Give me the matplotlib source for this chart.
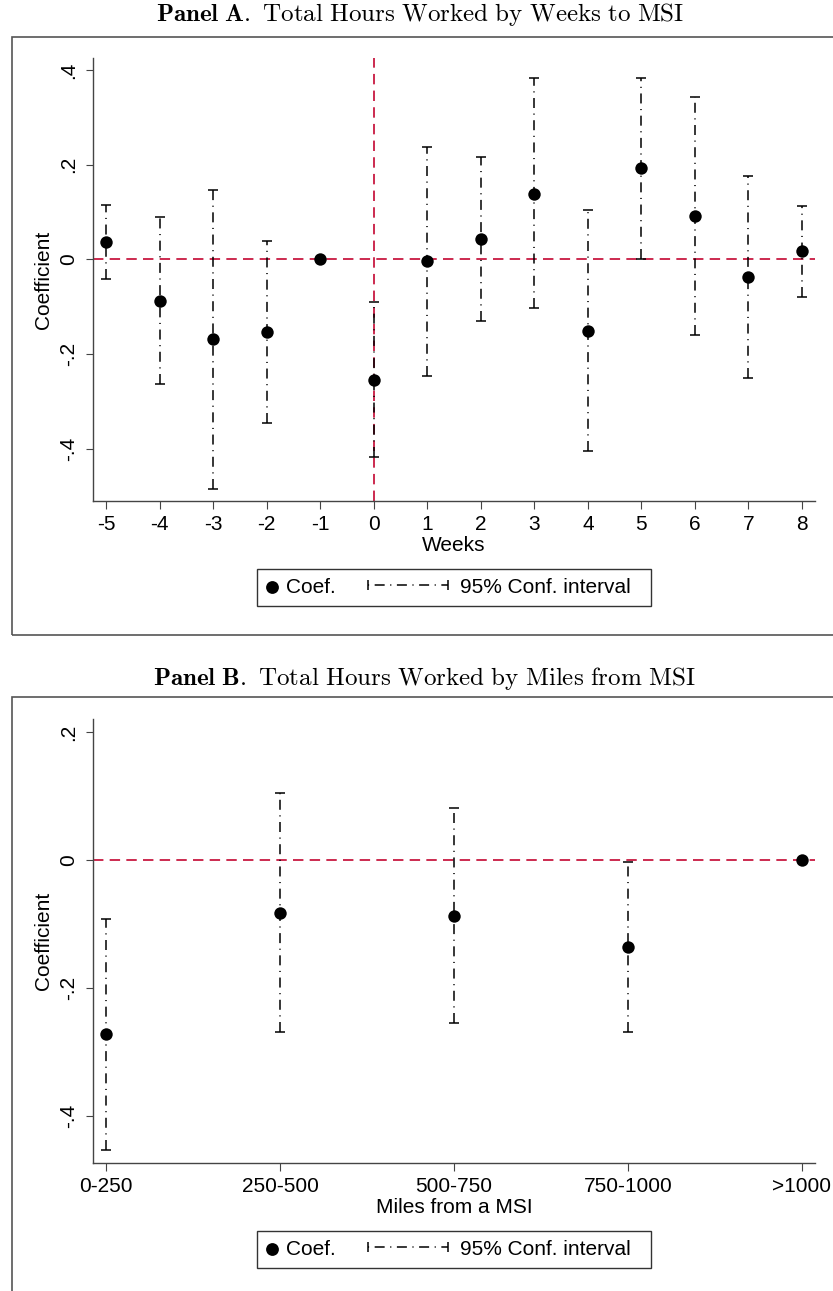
import matplotlib
matplotlib.use("Agg")
import matplotlib.pyplot as plt
from matplotlib.lines import Line2D
from matplotlib.patches import Rectangle
from matplotlib.legend_handler import HandlerBase
import numpy as np

# Panel A: coefficients by weeks to MSI
weeks = [-5, -4, -3, -2, -1, 0, 1, 2, 3, 4, 5, 6, 7, 8]
coef_a = [0.036, -0.087, -0.169, -0.154, 0.0, -0.254, -0.004, 0.043, 0.139, -0.151, 0.192, 0.092, -0.037, 0.017]
lo_a = [-0.042, -0.263, -0.485, -0.346, np.nan, -0.418, -0.246, -0.130, -0.102, -0.405, 0.001, -0.159, -0.250, -0.079]
hi_a = [0.115, 0.089, 0.147, 0.039, np.nan, -0.089, 0.237, 0.215, 0.382, 0.104, 0.382, 0.342, 0.176, 0.113]

# Panel B: coefficients by miles from MSI
miles = ["0-250", "250-500", "500-750", "750-1000", ">1000"]
coef_b = [-0.272, -0.082, -0.0875, -0.135, 0.0]
lo_b = [-0.452, -0.269, -0.255, -0.268, np.nan]
hi_b = [-0.092, 0.105, 0.081, -0.003, np.nan]

plt.rcParams['font.family'] = ['Liberation Sans', 'DejaVu Sans']
plt.rcParams['mathtext.fontset'] = 'cm'
plt.rcParams['lines.scale_dashes'] = False
plt.rcParams['axes.unicode_minus'] = False

red = '#cc2a4f'
spine_c = '#444444'
ci_style = (0, (7.2, 4.0, 0.8, 4.0))
fs = 15


class HandlerCI(HandlerBase):
    # Stata-like CI key: horizontal dash-dot line with end caps, drawn leftwards
    def create_artists(self, legend, orig_handle, xdescent, ydescent,
                       width, height, fontsize, trans):
        y = height / 2 - ydescent
        x1 = width - xdescent - 2.9
        x0 = x1 - 57.6
        line = Line2D([x0, x1], [y, y], color='black', lw=1.1, ls=(0, (0.8, 4.0, 7.2, 4.0)))
        caps = Line2D([x0, x1], [y, y], ls='none', marker='|', markersize=7,
                      markeredgewidth=1.1, color='black')
        line.set_transform(trans)
        caps.set_transform(trans)
        return [line, caps]


fig = plt.figure(figsize=(8.33, 12.91), dpi=100)


def draw_panel(ax, x, coef, lo, hi, xlabel, leg_y):
    x = np.asarray(x, dtype=float)
    coef = np.asarray(coef)
    lo = np.asarray(lo)
    hi = np.asarray(hi)
    ax.axhline(0, color=red, lw=1.4, ls=(0, (7.5, 4.5)), zorder=1)
    ok = ~np.isnan(lo)
    yerr = np.vstack([coef[ok] - lo[ok], hi[ok] - coef[ok]])
    eb = ax.errorbar(x[ok], coef[ok], yerr=yerr, fmt='none', ecolor='black',
                     elinewidth=1.1, capsize=3.4, capthick=1.1, zorder=2)
    eb[2][0].set_linestyle(ci_style)
    ax.scatter(x, coef, s=80, color='black', zorder=3, linewidths=0)

    for s in ['top', 'right']:
        ax.spines[s].set_visible(False)
    for s in ['left', 'bottom']:
        ax.spines[s].set_color(spine_c)
        ax.spines[s].set_linewidth(1.0)
    ax.tick_params(direction='out', length=5.4, width=0.8, color=spine_c,
                   labelsize=fs)
    ax.tick_params(axis='x', pad=5)
    ax.tick_params(axis='y', pad=5)
    ax.set_xlabel(xlabel, fontsize=fs, labelpad=1)
    ax.set_ylabel('Coefficient', fontsize=fs, labelpad=5)

    h_dot = ax.scatter([], [], s=85, color='black', linewidths=0)
    h_ci = Line2D([], [])
    leg = ax.legend([h_dot, h_ci], ['Coef.', '95% Conf. interval  '],
                    handler_map={h_ci: HandlerCI()},
                    loc='upper center', bbox_to_anchor=(0.5, leg_y),
                    ncol=2, fontsize=fs, frameon=True, fancybox=False,
                    scatterpoints=1, handlelength=0.6,
                    columnspacing=5.0, handletextpad=0.38, borderpad=0.42,
                    borderaxespad=0)
    leg.get_frame().set_edgecolor('black')
    leg.get_frame().set_linewidth(1.0)


def fmt_y(v):
    if abs(v) < 1e-9:
        return '0'
    s = '%.1f' % v
    return s.replace('0.', '.')


# Panel A
axA = fig.add_axes([93 / 833, 1 - 501 / 1291, 722 / 833, 443 / 1291])
draw_panel(axA, weeks, coef_a, lo_a, hi_a, 'Weeks', -68 / 443)
axA.axvline(0, color=red, lw=1.4, ls=(0, (7.5, 4.5)), zorder=1)
axA.set_xlim(-5.243, 8.243)
axA.set_ylim(-0.510, 0.425)
axA.set_xticks(weeks)
yt = [-0.4, -0.2, 0, 0.2, 0.4]
axA.set_yticks(yt)
axA.set_yticklabels([fmt_y(v) for v in yt], rotation=90, va='center')

# Panel B
axB = fig.add_axes([93 / 833, 1 - 1163 / 1291, 722 / 833, 444 / 1291])
draw_panel(axB, range(len(miles)), coef_b, lo_b, hi_b, 'Miles from a MSI', -68 / 444)
axB.set_xlim(-0.075, 4.075)
axB.set_ylim(-0.473, 0.2206)
axB.set_xticks(range(len(miles)))
axB.set_xticklabels(miles)
yt = [-0.4, -0.2, 0, 0.2]
axB.set_yticks(yt)
axB.set_yticklabels([fmt_y(v) for v in yt], rotation=90, va='center')

# outer frames and panel titles
fig.add_artist(Rectangle((12 / 833, 1 - 635 / 1291), 1.0, 598 / 1291,
                         transform=fig.transFigure, fill=False,
                         edgecolor='#555555', lw=1.2))
fig.add_artist(Rectangle((12 / 833, -0.05), 1.0, 0.05 + 1 - 697 / 1291,
                         transform=fig.transFigure, fill=False,
                         edgecolor='#555555', lw=1.2))
fig.text(420 / 833, 1 - 15 / 1291,
         r'$\mathbf{Panel\ A.}\ \mathrm{Total\ Hours\ Worked\ by\ Weeks\ to\ MSI}$',
         ha='center', va='center', fontsize=18)
fig.text(424 / 833, 1 - 679 / 1291,
         r'$\mathbf{Panel\ B.}\ \mathrm{Total\ Hours\ Worked\ by\ Miles\ from\ MSI}$',
         ha='center', va='center', fontsize=18)

fig.savefig('out.png', dpi=100)
